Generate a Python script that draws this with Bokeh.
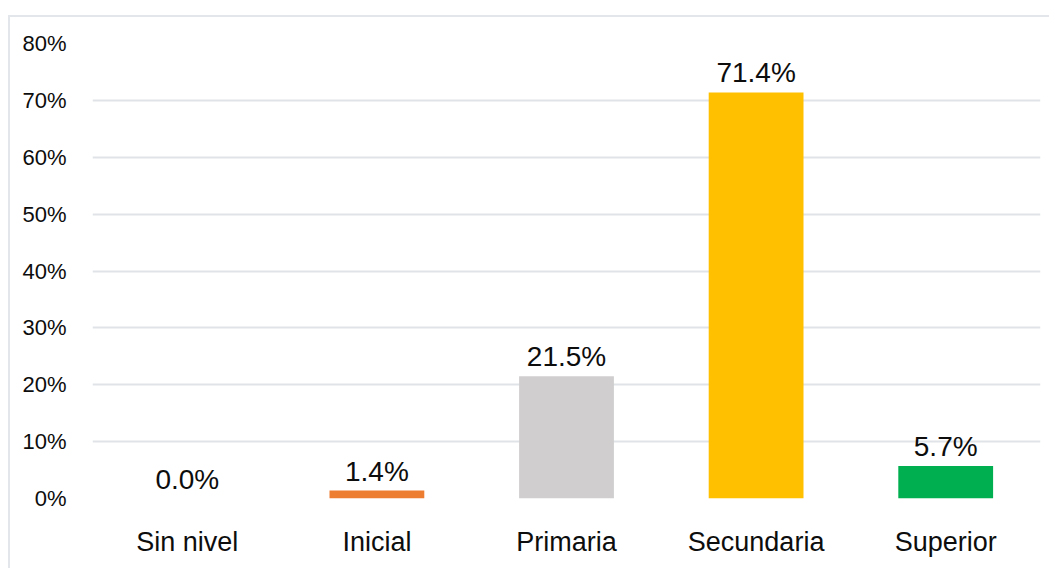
from bokeh.plotting import figure
from bokeh.models import ColumnDataSource, FixedTicker, Range1d, FactorRange
from bokeh.core.properties import value
from bokeh.embed import file_html
from bokeh.resources import INLINE

categories = ["Sin nivel", "Inicial", "Primaria", "Secundaria", "Superior"]
percentages = [0.0, 1.4, 21.5, 71.4, 5.7]
tick_values = [0, 10, 20, 30, 40, 50, 60, 70, 80]
tick_labels = ["0%", "10%", "20%", "30%", "40%", "50%", "60%", "70%", "80%"]
bar_colors = ["#5B9BD5", "#ED7D31", "#D0CECE", "#FFC000", "#00B050"]

FONT = "Liberation Sans"

src = ColumnDataSource(dict(
    cat=categories,
    val=percentages,
    color=bar_colors,
    label=[f"{v:.1f}%" for v in percentages],
))

p = figure(
    x_range=FactorRange(*categories, range_padding=0),
    y_range=Range1d(0, 80),
    width=1041, height=553,
    output_backend="svg", toolbar_location=None,
    min_border_left=82, min_border_right=11, min_border_top=26, min_border_bottom=72,
)
p.styles = {
    "margin-top": "15px",
    "margin-left": "8px",
    "border-top": "2px solid #e3e6ea",
    "border-left": "2px solid #e3e6ea",
}
p.outline_line_color = None
p.background_fill_color = "white"
p.border_fill_color = "white"

p.vbar(x="cat", top="val", width=0.5, color="color", line_color=None, source=src)

p.text(x="cat", y="val", text="label", source=src,
       text_font=value(FONT), text_font_size="28px", text_color="#0d0d0d",
       text_align="center", text_baseline="bottom", y_offset=-4)

# y axis
p.yaxis.ticker = FixedTicker(ticks=tick_values)
p.yaxis.major_label_overrides = {v: s for v, s in zip(tick_values, tick_labels)}
p.yaxis.axis_line_color = None
p.yaxis.major_tick_line_color = None
p.yaxis.minor_tick_line_color = None
p.yaxis.major_label_text_font = FONT
p.yaxis.major_label_text_font_size = "22px"
p.yaxis.major_label_text_color = "#0d0d0d"
p.yaxis.major_label_standoff = 20

# x axis
p.xaxis.axis_line_color = None
p.xaxis.major_tick_line_color = None
p.xaxis.minor_tick_line_color = None
p.xaxis.major_label_text_font = FONT
p.xaxis.major_label_text_font_size = "27px"
p.xaxis.major_label_text_color = "#0d0d0d"
p.xaxis.major_label_standoff = 22

p.xgrid.grid_line_color = None
p.ygrid.ticker = FixedTicker(ticks=tick_values)
p.ygrid.grid_line_color = "#e0e3e8"
p.ygrid.grid_line_width = 2

open("out.html", "w").write(file_html(p, INLINE))
